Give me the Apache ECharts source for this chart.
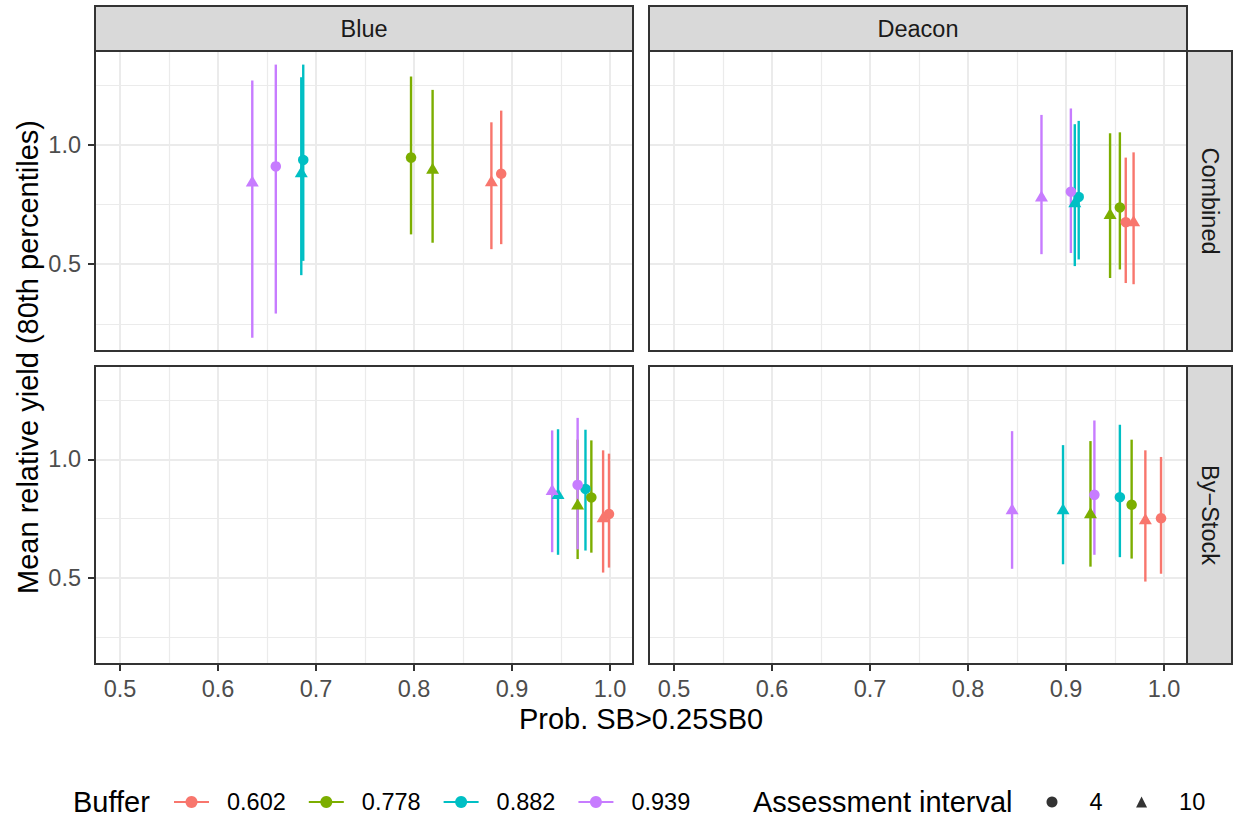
<!DOCTYPE html>
<html>
<head>
<meta charset="utf-8">
<title>Mean relative yield</title>
<script src="https://cdn.jsdelivr.net/npm/echarts@6.0.0/dist/echarts.min.js"></script>
<style>
html, body { margin: 0; padding: 0; background: #fff; }
#main { width: 1236px; height: 818px; }
</style>
</head>
<body>
<div id="main"></div>
<script>
// facets
var facetCols = ['Blue', 'Deacon'];
var facetRows = ['Combined', 'By−Stock'];
var buffers = ['0.602', '0.778', '0.882', '0.939'];
var intervals = ['4', '10'];

// each panel lists its points in this order:
// 0.602 (4, 10), 0.778 (4, 10), 0.882 (4, 10), 0.939 (4, 10)
var pointBuffer = [0, 0, 1, 1, 2, 2, 3, 3];
var pointInterval = [0, 1, 0, 1, 0, 1, 0, 1];

var blueCombinedProb = [0.889, 0.879, 0.797, 0.819, 0.687, 0.685, 0.659, 0.635];
var blueCombinedMean = [0.879, 0.850, 0.947, 0.902, 0.937, 0.888, 0.910, 0.849];
var blueCombinedLow  = [0.584, 0.563, 0.625, 0.590, 0.514, 0.454, 0.293, 0.192];
var blueCombinedHigh = [1.144, 1.095, 1.287, 1.231, 1.337, 1.284, 1.337, 1.270];

var deaconCombinedProb = [0.961, 0.969, 0.955, 0.945, 0.913, 0.909, 0.905, 0.875];
var deaconCombinedMean = [0.676, 0.682, 0.738, 0.713, 0.782, 0.762, 0.804, 0.786];
var deaconCombinedLow  = [0.421, 0.416, 0.478, 0.442, 0.520, 0.492, 0.547, 0.542];
var deaconCombinedHigh = [0.947, 0.969, 1.053, 1.049, 1.101, 1.087, 1.153, 1.126];

var blueStockProb = [0.999, 0.993, 0.981, 0.967, 0.975, 0.947, 0.967, 0.941];
var blueStockMean = [0.769, 0.758, 0.839, 0.811, 0.875, 0.856, 0.892, 0.873];
var blueStockLow  = [0.543, 0.522, 0.606, 0.579, 0.615, 0.597, 0.620, 0.608];
var blueStockHigh = [1.024, 1.038, 1.080, 1.083, 1.125, 1.127, 1.175, 1.122];

var deaconStockProb = [0.997, 0.981, 0.967, 0.925, 0.955, 0.897, 0.929, 0.845];
var deaconStockMean = [0.751, 0.749, 0.808, 0.775, 0.840, 0.791, 0.850, 0.791];
var deaconStockLow  = [0.517, 0.484, 0.581, 0.547, 0.587, 0.557, 0.597, 0.538];
var deaconStockHigh = [1.010, 1.038, 1.083, 1.077, 1.146, 1.060, 1.164, 1.119];

var xTicks = [0.5, 0.6, 0.7, 0.8, 0.9, 1.0];
var xMinor = [0.55, 0.65, 0.75, 0.85, 0.95];
var yTicks = [0.5, 1.0];
var yMinor = [0.25, 0.75, 1.25];

var bufferColors = ['#F8766D', '#7CAE00', '#00BFC4', '#C77CFF'];

var panels = [
	{prob: blueCombinedProb, mean: blueCombinedMean, low: blueCombinedLow, high: blueCombinedHigh},
	{prob: deaconCombinedProb, mean: deaconCombinedMean, low: deaconCombinedLow, high: deaconCombinedHigh},
	{prob: blueStockProb, mean: blueStockMean, low: blueStockLow, high: blueStockHigh},
	{prob: deaconStockProb, mean: deaconStockMean, low: deaconStockLow, high: deaconStockHigh}
];

// panel boxes [left, top, width, height]
var boxes = [[95, 51, 538, 300], [649, 51, 538, 300], [95, 366, 538, 298], [649, 366, 538, 298]];
var FONT = 'Liberation Sans';
var SMALL = 23.5, TITLE_SIZE = 29;

var grids = [], xAxes = [], yAxes = [], series = [];

function fmt(v) { return v.toFixed(1); }

function renderRange(params, api) {
	var top = api.coord([api.value(0), api.value(2)]);
	var bot = api.coord([api.value(0), api.value(1)]);
	return {
		type: 'line',
		shape: {x1: top[0], y1: top[1], x2: bot[0], y2: bot[1]},
		style: {stroke: bufferColors[api.value(3)], lineWidth: 2.4}
	};
}

panels.forEach(function (pan, p) {
	var row = Math.floor(p / 2), col = p % 2;
	var b = boxes[p];
	grids.push({left: b[0], top: b[1], width: b[2], height: b[3], containLabel: false, outerBoundsMode: 'none', show: true, backgroundColor: '#fff', borderWidth: 0});

	xAxes.push({
		type: 'value', gridIndex: p, min: 0.4745, max: 1.0235, position: 'bottom',
		axisLine: {show: false},
		axisTick: {show: row === 1, customValues: xTicks, length: 7, lineStyle: {color: '#333333', width: 2}},
		axisLabel: {show: row === 1, customValues: xTicks, formatter: fmt, margin: 13, color: '#4D4D4D', fontSize: SMALL, fontFamily: FONT},
		splitLine: {show: true, lineStyle: {color: '#EBEBEB', width: 2}}
	});
	xAxes.push({
		type: 'value', gridIndex: p, min: 0.4745, max: 1.0235, position: 'top',
		axisLine: {show: false},
		axisTick: {show: false, customValues: xMinor},
		axisLabel: {show: false},
		splitLine: {show: true, lineStyle: {color: '#EBEBEB', width: 1.2}}
	});
	yAxes.push({
		type: 'value', gridIndex: p, min: 0.136, max: 1.394, position: 'left',
		axisLine: {show: false},
		axisTick: {show: col === 0, customValues: yTicks, length: 7, lineStyle: {color: '#333333', width: 2}},
		axisLabel: {show: col === 0, customValues: yTicks, formatter: fmt, margin: 14, color: '#4D4D4D', fontSize: SMALL, fontFamily: FONT},
		splitLine: {show: true, lineStyle: {color: '#EBEBEB', width: 2}}
	});
	yAxes.push({
		type: 'value', gridIndex: p, min: 0.136, max: 1.394, position: 'right',
		axisLine: {show: false},
		axisTick: {show: false, customValues: yMinor},
		axisLabel: {show: false},
		splitLine: {show: true, lineStyle: {color: '#EBEBEB', width: 1.2}}
	});

	var ranges = pan.prob.map(function (x, i) {
		return [x, pan.low[i], pan.high[i], pointBuffer[i]];
	});
	series.push({
		type: 'custom', xAxisIndex: 2 * p, yAxisIndex: 2 * p,
		renderItem: renderRange, data: ranges, encode: {x: 0, y: [1, 2]},
		silent: true, z: 2
	});

	intervals.forEach(function (iv, k) {
		var pts = [];
		pan.prob.forEach(function (x, i) {
			if (pointInterval[i] === k) pts.push([x, pan.mean[i], pointBuffer[i]]);
		});
		series.push({
			type: 'scatter', xAxisIndex: 2 * p, yAxisIndex: 2 * p,
			symbol: k === 0 ? 'circle' : 'triangle',
			symbolSize: k === 0 ? 10.5 : [13, 11],
			data: pts, silent: true, z: 3,
			itemStyle: {opacity: 1, color: function (prm) { return bufferColors[prm.value[2]]; }}
		});
	});
});

// legend-only series
buffers.forEach(function (name, i) {
	series.push({
		type: 'line', name: name, data: [], symbol: 'circle',
		itemStyle: {color: bufferColors[i]}, lineStyle: {color: bufferColors[i], width: 2.4}
	});
});
intervals.forEach(function (name, k) {
	series.push({
		type: 'scatter', name: name, data: [], symbol: k === 0 ? 'circle' : 'triangle',
		itemStyle: {color: '#000000'}
	});
});

var graphics = [];
// column strips
facetCols.forEach(function (name, c) {
	var b = boxes[c];
	graphics.push({type: 'rect', shape: {x: b[0], y: 6, width: b[2], height: 45},
		style: {fill: '#D9D9D9', stroke: '#333333', lineWidth: 2}, z: 100});
	graphics.push({type: 'text', x: b[0] + b[2] / 2, y: 29, z: 101,
		style: {text: name, fontSize: SMALL, fontFamily: FONT, fill: '#1A1A1A', align: 'center', verticalAlign: 'middle'}});
});
// row strips
facetRows.forEach(function (name, r) {
	var b = boxes[r * 2 + 1];
	graphics.push({type: 'rect', shape: {x: 1187, y: b[1], width: 45, height: b[3]},
		style: {fill: '#D9D9D9', stroke: '#333333', lineWidth: 2}, z: 100});
	graphics.push({type: 'text', x: 1210, y: b[1] + b[3] / 2, rotation: -Math.PI / 2, z: 101,
		style: {text: name, fontSize: SMALL, fontFamily: FONT, fill: '#1A1A1A', align: 'center', verticalAlign: 'middle'}});
});
// panel borders
boxes.forEach(function (b) {
	graphics.push({type: 'rect', shape: {x: b[0], y: b[1], width: b[2], height: b[3]},
		style: {fill: 'none', stroke: '#333333', lineWidth: 2}, z: 100});
});
// titles
graphics.push({type: 'text', x: 28, y: 357, rotation: Math.PI / 2, z: 101,
	style: {text: 'Mean relative yield (80th percentiles)', fontSize: TITLE_SIZE, fontFamily: FONT, fill: '#000', align: 'center', verticalAlign: 'middle'}});
graphics.push({type: 'text', x: 641, y: 719, z: 101,
	style: {text: 'Prob. SB>0.25SB0', fontSize: TITLE_SIZE, fontFamily: FONT, fill: '#000', align: 'center', verticalAlign: 'middle'}});
graphics.push({type: 'text', x: 73, y: 802, z: 101,
	style: {text: 'Buffer', fontSize: TITLE_SIZE, fontFamily: FONT, fill: '#000', align: 'left', verticalAlign: 'middle'}});
graphics.push({type: 'text', x: 753, y: 802, z: 101,
	style: {text: 'Assessment interval', fontSize: TITLE_SIZE, fontFamily: FONT, fill: '#000', align: 'left', verticalAlign: 'middle'}});

function keyLabel(gap) {
	return {
		formatter: function (name) { return '{g|}{t|' + name + '}'; },
		textStyle: {
			fontSize: SMALL, color: '#000', fontFamily: FONT,
			rich: {g: {width: gap}, t: {fontSize: SMALL, color: '#000', fontFamily: FONT}}
		}
	};
}

var bufferLegend = Object.assign({
	data: buffers, left: 173, top: 790, padding: 0, itemWidth: 35, itemHeight: 15, itemGap: 22,
	selectedMode: false
}, keyLabel(13));
var intervalLegend = Object.assign({
	data: intervals, left: 1046.5, top: 790, padding: 0, itemWidth: 11, itemHeight: 11, itemGap: 33.5,
	selectedMode: false
}, keyLabel(27));

var myChart = echarts.init(document.getElementById('main'), null, {renderer: 'svg'});
var option = {
	animation: false,
	backgroundColor: '#ffffff',
	textStyle: {fontFamily: FONT},
	grid: grids,
	xAxis: xAxes,
	yAxis: yAxes,
	legend: [bufferLegend, intervalLegend],
	graphic: graphics,
	series: series
};
myChart.setOption(option);
</script>
</body>
</html>
